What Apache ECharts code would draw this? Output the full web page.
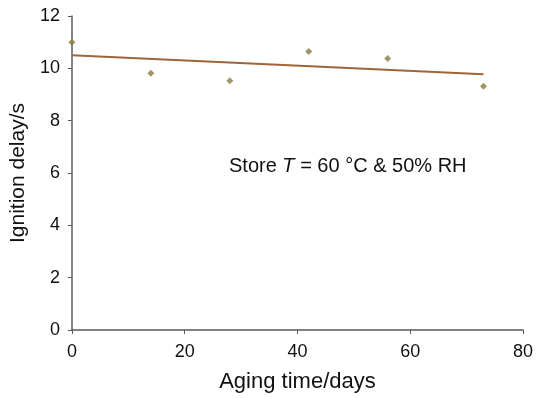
<!DOCTYPE html>
<html>
<head>
<meta charset="utf-8">
<script src="https://cdn.jsdelivr.net/npm/echarts@6/dist/echarts.min.js"></script>
<style>
  html, body { margin: 0; padding: 0; background: #fff; }
  #chart { width: 536px; height: 398px; }
</style>
</head>
<body>
<div id="chart"></div>
<script>
// measured points
const agingDays = [0, 14, 28, 42, 56, 73]
const ignitionDelay = [11.0, 9.81, 9.53, 10.64, 10.38, 9.32]

// linear fit, as drawn
const trendDays = [0, 73]
const trendDelay = [10.5, 9.77]

const xTicks = [0, 20, 40, 60, 80]
const yTicks = [0, 2, 4, 6, 8, 10, 12]

const font = 'Liberation Sans, Arial, Helvetica, sans-serif'
const axisColor = '#5a5a5a'

const chart = echarts.init(document.getElementById('chart'))

const axisCommon = {
	type: 'value',
	axisLine: { show: true, lineStyle: { color: axisColor, width: 1.5 } },
	axisTick: { show: true, length: 4, lineStyle: { color: axisColor } },
	splitLine: { show: false },
	axisLabel: { color: '#111', fontSize: 18, fontFamily: font },
	nameTextStyle: { color: '#111', fontSize: 22, fontFamily: font }
}

chart.setOption({
	backgroundColor: '#fff',
	animation: false,
	grid: { left: 71, right: 10, top: 16, bottom: 68 },
	xAxis: Object.assign({}, axisCommon, {
		min: xTicks[0],
		max: xTicks[xTicks.length - 1],
		interval: 20,
		name: 'Aging time/days',
		nameLocation: 'middle',
		nameGap: 41,
		axisLabel: Object.assign({}, axisCommon.axisLabel, { margin: 13 })
	}),
	yAxis: Object.assign({}, axisCommon, {
		min: yTicks[0],
		max: yTicks[yTicks.length - 1],
		interval: 2,
		name: 'Ignition delay/s',
		nameLocation: 'middle',
		nameGap: 40,
		nameTextStyle: { color: '#111', fontSize: 21, fontFamily: font },
		axisLabel: Object.assign({}, axisCommon.axisLabel, { margin: 12 })
	}),
	series: [
		{
			type: 'line',
			data: trendDays.map((d, i) => [d, trendDelay[i]]),
			symbol: 'none',
			lineStyle: { color: '#a0643a', width: 2 },
			z: 2
		},
		{
			type: 'scatter',
			data: agingDays.map((d, i) => [d, ignitionDelay[i]]),
			symbol: 'diamond',
			symbolSize: 7,
			itemStyle: { color: '#8c7a3e' },
			z: 3
		}
	],
	graphic: [{
		type: 'text',
		left: 229,
		top: 156,
		style: {
			text: '{n|Store }{i|T}{n| = 60 °C & 50% RH}',
			rich: {
				n: { fontSize: 20, fontFamily: font, fill: '#111' },
				i: { fontSize: 20, fontFamily: font, fontStyle: 'italic', fill: '#111' }
			}
		}
	}]
})
</script>
</body>
</html>
